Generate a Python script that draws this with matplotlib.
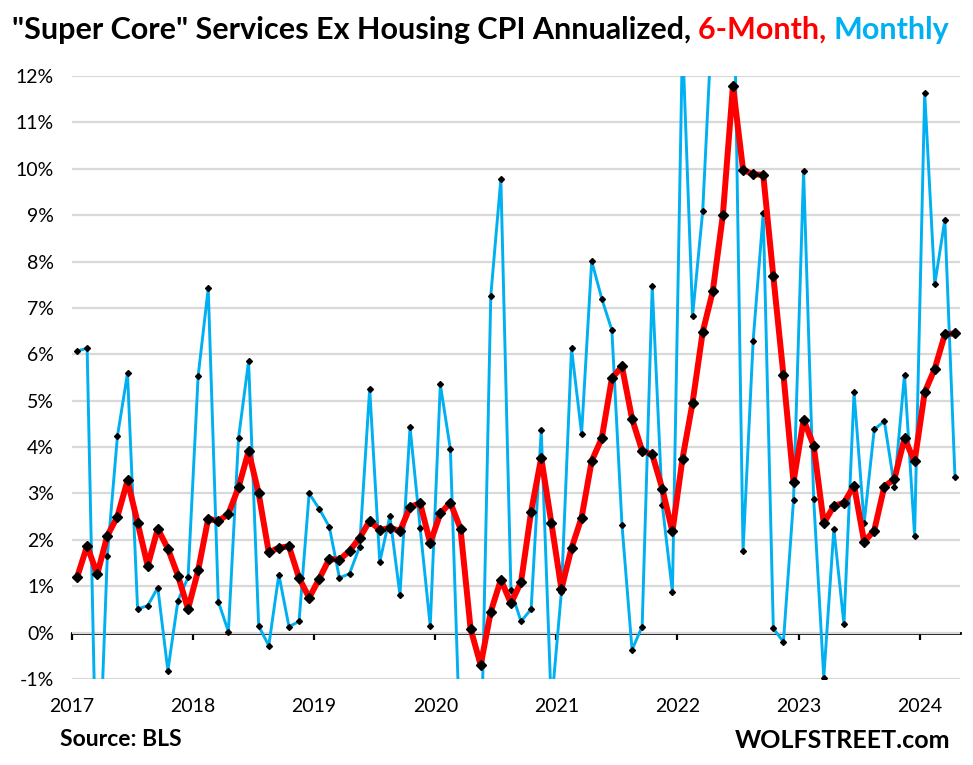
import matplotlib
matplotlib.use('Agg')
import matplotlib.pyplot as plt

plt.rcParams['font.family'] = ['Lato', 'DejaVu Sans']

# monthly values, Jan 2017 .. Apr 2024 (annualized %)
six_month = [1.19, 1.87, 1.26, 2.09, 2.50, 3.28, 2.37, 1.44, 2.24, 1.81, 1.23, 0.51,
             1.34, 2.46, 2.40, 2.56, 3.13, 3.91, 3.00, 1.73, 1.83, 1.86, 1.18, 0.75,
             1.16, 1.59, 1.57, 1.76, 2.04, 2.41, 2.21, 2.26, 2.19, 2.71, 2.79, 1.93,
             2.57, 2.80, 2.24, 0.08, -0.70, 0.45, 1.14, 0.63, 1.09, 2.61, 3.77, 2.37,
             0.94, 1.82, 2.48, 3.70, 4.19, 5.48, 5.74, 4.61, 3.92, 3.84, 3.10, 2.18,
             3.75, 4.96, 6.48, 7.36, 9.00, 11.79, 9.98, 9.88, 9.87, 7.68, 5.56, 3.25,
             4.59, 4.03, 2.36, 2.73, 2.80, 3.17, 1.96, 2.20, 3.15, 3.31, 4.19, 3.69,
             5.18, 5.69, 6.43, 6.45]

monthly = [6.07, 6.13, -4.2, 1.66, 4.23, 5.59, 0.51, 0.58, 0.97, -0.82, 0.69, 1.19,
           5.53, 7.42, 0.67, 0.02, 4.19, 5.85, 0.14, -0.28, 1.25, 0.13, 0.24, 3.00,
           2.67, 2.28, 1.18, 1.27, 1.85, 5.26, 1.52, 2.51, 0.81, 4.43, 2.26, 0.14,
           5.35, 3.95, -2.7, -8.0, -3.1, 7.26, 9.78, 0.91, 0.24, 0.51, 4.36, -1.6,
           0.88, 6.13, 4.29, 8.01, 7.20, 6.52, 2.33, -0.37, 0.13, 7.47, 2.75, 0.88,
           12.8, 6.83, 9.08, 13.5, 13.0, 15.5, 1.76, 6.29, 9.04, 0.09, -0.20, 2.85,
           9.95, 2.88, -0.97, 2.24, 0.18, 5.18, 2.36, 4.38, 4.56, 3.15, 5.56, 2.09,
           11.64, 7.51, 8.90, 3.36]

years = [2017, 2018, 2019, 2020, 2021, 2022, 2023, 2024]
y_ticks = list(range(-1, 13))

RED = '#FF0000'
BLUE = '#00B0F0'
W, H = 973, 765

fig = plt.figure(figsize=(W / 100, H / 100), dpi=100)
ax = fig.add_axes([72 / W, 1 - 679 / H, (960 - 72) / W, (679 - 76) / H])

x = list(range(len(monthly)))
ax.plot(x, monthly, color=BLUE, lw=2.1, marker='D', ms=3.0,
        mfc='black', mec='black', zorder=3)
ax.plot(x, six_month, color=RED, lw=4.3, marker='D', ms=5.5,
        mfc='black', mec='black', zorder=4)

ax.set_xlim(-0.5, len(monthly) - 0.5)
ax.set_ylim(-1, 12)

ax.set_yticks(y_ticks)
ax.set_yticklabels([f'{v}%' for v in y_ticks], fontsize=14)
ax.yaxis.grid(True, color='#D9D9D9', lw=1.6)
ax.set_axisbelow(True)

tick_pos = [12 * k - 0.5 for k in range(len(years))]
ax.set_xticks(tick_pos)
ax.set_xticklabels([str(y) for y in years], fontsize=14)
ax.tick_params(axis='both', length=0)
ax.tick_params(axis='y', pad=13)
ax.tick_params(axis='x', pad=14)
for s in ax.spines.values():
    s.set_visible(False)

# zero line with year tick marks
zero = ax.secondary_xaxis(1 / 13)
zero.set_xticks(tick_pos)
zero.set_xticklabels([])
zero.tick_params(direction='out', length=5, width=1.6, color='black')
zero.spines['bottom'].set_linewidth(2)
zero.spines['bottom'].set_color('black')

# multi-coloured title
parts = [('"Super Core" Services Ex Housing CPI Annualized, ', 'black'),
         ('6-Month, ', RED),
         ('Monthly', BLUE)]
renderer = fig.canvas.get_renderer()
tkw = dict(fontsize=22, fontweight='bold', va='center')


def text_width(s):
    t = fig.text(0, 0, s, **tkw)
    w = t.get_window_extent(renderer).width
    t.remove()
    return w


x0 = 12
prefix = ''
for s, c in parts:
    xp = x0 + text_width(prefix + 'X') - text_width('X') if prefix else x0
    fig.text(xp / W, 1 - 30 / H, s, color=c, **tkw)
    prefix += s

fig.text(60 / W, 1 - 740 / H, 'Source: BLS', fontsize=16.5, fontweight='bold', va='center')
fig.text(950 / W, 1 - 740 / H, 'WOLFSTREET.com', fontsize=18, fontweight='bold',
         va='center', ha='right')

fig.savefig('out.png', dpi=100)
